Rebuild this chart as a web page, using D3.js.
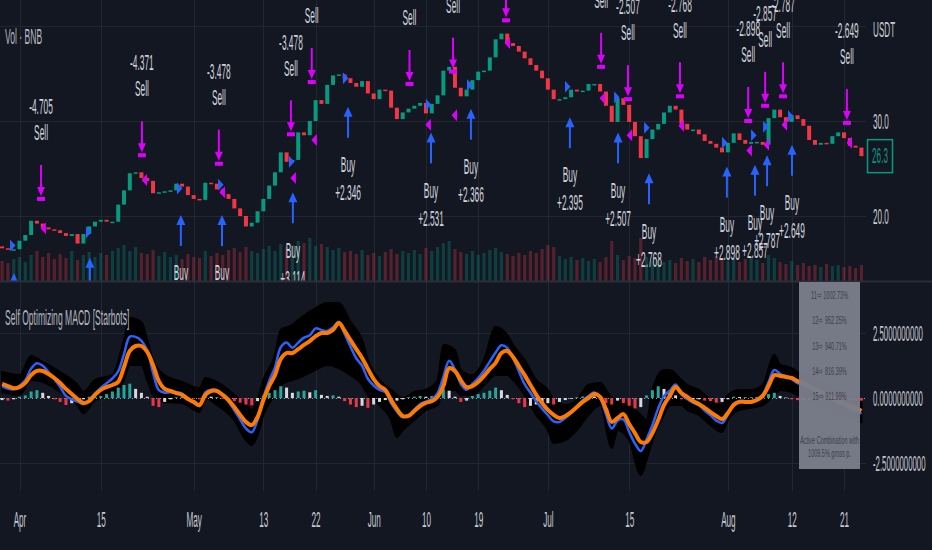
<!DOCTYPE html>
<html>
<head>
<meta charset="utf-8">
<script src="https://cdn.jsdelivr.net/npm/d3@7"></script>
<style>
  body { margin: 0; background: #131722; }
  svg { display: block; font-family: 'Liberation Sans', Arial, sans-serif; }
</style>
</head>
<body>
<svg id="chart"></svg>
<script>
// BNB/USDT daily, Mar 29 – Aug 24 2019, with Self Optimizing MACD [Starbots]
const firstDay = '2019-03-29';
const firstOpen = 16.8;

const closes = [
  16.6, 16.5, 16.5, 17.4, 18.0, 19.5, 19.2, 18.8, 18.6, 18.5,
  18.2, 17.9, 18.1, 17.1, 18.1, 18.9, 19.4, 19.6, 19.4, 19.4,
  21.2, 22.7, 24.5, 24.6, 24.0, 23.7, 22.4, 22.5, 22.6, 22.7,
  23.4, 23.1, 22.2, 21.8, 21.7, 23.5, 23.4, 22.8, 22.3, 21.8,
  20.8, 20.0, 18.9, 19.3, 20.5, 21.8, 23.2, 24.6, 26.7, 25.7,
  25.9, 28.8, 28.5, 30.0, 32.2, 31.8, 33.8, 34.8, 34.9, 34.5,
  34.0, 33.6, 34.2, 32.9, 32.3, 33.3, 33.2, 31.4, 30.2, 30.9,
  31.3, 31.6, 31.9, 30.8, 31.8, 32.7, 35.3, 35.7, 33.5, 32.6,
  33.3, 34.3, 35.2, 35.3, 36.7, 38.6, 39.2, 38.2, 37.9, 37.3,
  36.6, 35.9, 35.3, 34.5, 33.3, 32.3, 32.3, 32.5, 33.3, 33.1,
  33.2, 33.9, 33.9, 33.1, 31.6, 29.9, 32.4, 31.7, 29.9, 28.4,
  26.1, 28.1, 29.1, 29.7, 30.9, 31.6, 31.2, 29.7, 29.1, 29.1,
  28.6, 27.9, 27.6, 27.2, 26.7, 27.7, 28.7, 28.0, 27.6, 27.8,
  27.8, 27.5, 30.3, 31.2, 30.4, 29.9, 30.6, 30.2, 29.5, 28.0,
  27.5, 27.7, 27.6, 28.4, 28.8, 28.2, 27.4, 27.2, 26.3
];

const volumes = [
  20, 18, 22, 24, 19, 26, 30, 24, 28, 22, 27, 23, 30, 21, 26,
  29, 24, 28, 26, 30, 33, 36, 30, 34, 28, 27, 31, 25, 29, 24,
  26, 22, 27, 24, 23, 30, 25, 28, 26, 31, 33, 29, 34, 30, 28,
  32, 35, 30, 37, 34, 36, 40, 38, 43, 35, 37, 34, 31, 33, 29,
  30, 27, 31, 26, 28, 25, 29, 32, 27, 30, 28, 31, 27, 33, 30,
  34, 38, 40, 32, 29, 27, 30, 26, 28, 31, 33, 29, 27, 25, 28,
  26, 30, 28, 32, 36, 34, 25, 22, 24, 21, 23, 20, 22, 19, 24,
  40, 26, 21, 25, 23, 43, 24, 20, 22, 19, 21, 18, 23, 20, 22,
  19, 24, 21, 25, 22, 20, 23, 19, 22, 24, 21, 18, 26, 23, 19,
  17, 20, 16, 18, 15, 16, 14, 17, 15, 16, 14, 15, 13, 16
];

// signal line (orange) and histogram; MACD line = signal + histogram
const signal = [
  0.54, 0.46, 0.38, 0.42, 0.58, 0.88, 1.04, 1.04, 0.92, 0.77,
  0.58, 0.35, 0.15, -0.04, -0.19, -0.12, 0.12, 0.31, 0.42, 0.50,
  0.62, 1.19, 1.81, 2.00, 2.00, 1.77, 1.27, 0.65, 0.35, 0.27,
  0.19, 0.12, -0.04, -0.15, -0.27, 0.12, 0.27, 0.27, 0.12, -0.08,
  -0.35, -0.65, -0.92, -1.04, -0.73, -0.08, 0.46, 0.88, 1.50, 1.73,
  1.73, 1.88, 2.04, 2.19, 2.38, 2.50, 2.50, 2.62, 2.88, 2.58,
  2.23, 1.88, 1.54, 1.12, 0.73, 0.46, 0.31, -0.08, -0.42, -0.69,
  -0.69, -0.50, -0.31, -0.19, -0.12, 0.04, 0.46, 1.15, 1.04, 0.69,
  0.42, 0.46, 0.62, 0.85, 1.12, 1.35, 1.73, 1.81, 1.58, 1.23,
  0.88, 0.50, 0.12, -0.19, -0.46, -0.65, -0.77, -0.69, -0.54, -0.35,
  -0.15, 0.00, 0.15, 0.04, -0.42, -0.92, -0.77, -0.62, -1.00, -1.35,
  -1.69, -1.69, -1.35, -0.85, -0.27, 0.08, 0.42, 0.19, 0.04, -0.12,
  -0.23, -0.38, -0.54, -0.69, -0.81, -0.58, -0.27, -0.15, -0.15, -0.15,
  -0.08, 0.08, 0.46, 0.88, 0.85, 0.81, 0.77, 0.65, 0.58, 0.46,
  0.35, 0.23, 0.12, 0.00, -0.12, -0.19, -0.31, -0.38, -0.50
];

const hist = [
  -0.08, -0.1, -0.05, 0.05, 0.1, 0.25, 0.3, 0.2, 0.08, -0.05,
  -0.15, -0.27, -0.2, -0.1, -0.05, 0.05, 0.05, 0.08, 0.15, 0.25,
  0.4, 0.5, 0.55, 0.35, 0.2, 0.05, -0.3, -0.35, -0.15, -0.05,
  0.03, 0.05, 0.02, -0.03, -0.05, 0.1, 0.05, 0.02, -0.03, -0.06,
  -0.12, -0.18, -0.25, -0.28, -0.12, 0.1, 0.2, 0.3, 0.45, 0.4,
  0.2, 0.25, 0.28, 0.22, 0.3, 0.12, 0.08, 0.1, 0.05, -0.12,
  -0.25, -0.35, -0.3, -0.38, -0.25, -0.15, -0.08, -0.12, -0.1, -0.05,
  0.03, 0.05, 0.08, 0.05, 0.08, 0.15, 0.35, 0.28, 0.05, -0.15,
  -0.1, 0.08, 0.15, 0.2, 0.28, 0.4, 0.3, 0.12, -0.05, -0.2,
  -0.35, -0.3, -0.25, -0.22, -0.2, -0.25, -0.15, -0.08, -0.03, 0.03,
  0.06, 0.08, 0.06, -0.05, -0.2, -0.25, -0.1, -0.2, -0.3, -0.4,
  -0.35, 0.1, 0.3, 0.45, 0.35, 0.2, 0.1, -0.05, -0.08, -0.06,
  -0.05, -0.1, -0.12, -0.18, -0.15, -0.05, 0.05, 0.04, 0.02, 0.03,
  0.04, 0.05, 0.15, 0.2, 0.08, 0.02, -0.05, -0.08, -0.08, -0.08,
  -0.07, -0.06, -0.05, -0.05, -0.06, -0.07, -0.08, -0.09, -0.1
];

// envelope of all tested MACD combinations (black band), day offsets from firstDay
const bandDay = [0, 3, 5, 7, 10, 13, 14, 16, 19, 21, 22, 24, 25, 26, 28, 31, 34, 35, 37, 40,
  42, 43, 44, 45, 47, 48, 50, 51, 54, 56, 58, 60, 62, 63, 65, 67, 68, 69, 71, 73,
  75, 76, 78, 79, 81, 83, 85, 87, 88, 90, 92, 94, 95, 97, 99, 101, 103, 105, 106, 108,
  110, 111, 112, 114, 115, 117, 118, 120, 122, 124, 125, 127, 129, 131, 133, 134, 136, 137, 141, 144, 148];
const bandHi = [1.0, 0.88, 1.62, 1.38, 1.0, 0.5, 0.23, 0.69, 0.88, 2.23, 3.08, 2.92, 2.23, 1.46, 0.88, 0.62, 0.38, 0.77, 0.62, 0.12,
  -0.27, -0.46, -0.08, 0.69, 1.65, 2.62, 2.81, 3.0, 3.46, 3.65, 3.65, 2.92, 2.23, 1.46, 0.69, 0.31, 0.12, 0.0, 0.23, 0.31,
  0.69, 2.04, 1.85, 1.08, 0.88, 1.46, 2.73, 2.42, 2.04, 1.46, 0.69, 0.31, -0.08, -0.27, -0.08, 0.5, 0.58, 0.0, -0.08, -0.27,
  -0.65, -0.85, 0.31, 1.08, 1.08, 0.69, 0.5, 0.31, -0.08, -0.27, 0.12, 0.31, 0.31, 0.5, 1.65, 1.27, 1.15, 1.0, 0.62, 0.23, -0.08];
const bandLo = [0.23, 0.12, 0.69, 0.62, 0.23, -0.27, -0.58, -0.08, 0.12, 0.69, 1.27, 1.27, 0.69, 0.12, -0.15, -0.19, -0.54, 0.0, -0.27, -0.85,
  -1.62, -1.81, -1.42, -0.65, 0.12, 0.5, 0.69, 0.77, 1.08, 1.27, 1.15, 0.88, 0.5, 0.12, -0.27, -0.85, -1.5, -1.23, -0.85, -0.46,
  -0.27, 0.3, 0.31, 0.12, 0.12, 0.5, 0.88, 0.88, 0.69, 0.12, -0.65, -1.23, -1.73, -1.62, -1.23, -0.65, -0.27, -1.92, -1.23, -1.62,
  -2.96, -2.38, -1.62, -0.65, -0.27, -0.27, -0.46, -0.65, -1.04, -1.31, -0.85, -0.46, -0.38, -0.27, 0.12, 0.31, 0.23, 0.12, -0.27, -0.62, -0.92];

// strategy signals
const sellAt = ['2019-04-04 17', '2019-04-22 02', '2019-05-05 08', '2019-05-17 18', '2019-05-21 08',
  '2019-06-07 04', '2019-06-14 16', '2019-06-23 19', '2019-07-10 04', '2019-07-14 19',
  '2019-07-23 18', '2019-08-04 12', '2019-08-07 10', '2019-08-10 12', '2019-08-21 12'];
const sellLevel = [21.8, 26.4, 25.5, 28.6, 34.1, 33.9, 35.2, 40.6, 35.7, 32.3, 32.6, 30.0, 31.6, 32.6, 29.8];
const sellText = ['-4.705', '-4.371', '-3.478', '-3.478', '-3.114', '-2.346', '-2.531', '-2.366',
  '-2.395', '-2.507', '-2.768', '-2.898', '-2.857', '-2.787', '-2.649'];

const buyAt = ['2019-03-31 01', '2019-04-13 03', '2019-04-28 19', '2019-05-05 21', '2019-05-18 02',
  '2019-05-27 14', '2019-06-10 21', '2019-06-17 18', '2019-07-04 19', '2019-07-13 02',
  '2019-07-18 10', '2019-07-31 20', '2019-08-05 16', '2019-08-07 18', '2019-08-12 01'];
const buyLevel = [14.0, 15.6, 20.1, 20.1, 22.5, 31.5, 28.8, 31.3, 30.4, 28.8, 24.5, 25.2, 25.4, 26.4, 27.5];
const buyText = ['+4.705', '+4.371', '+3.478', '+3.478', '+3.114', '+2.346', '+2.531', '+2.366',
  '+2.395', '+2.507', '+2.768', '+2.898', '+2.857', '+2.787', '+2.649'];

const longAt = ['2019-03-30 17', '2019-04-12 19', '2019-04-28 11', '2019-05-05 13', '2019-05-17 18',
  '2019-05-27 01', '2019-06-10 08', '2019-06-17 10', '2019-07-04 07', '2019-07-12 18',
  '2019-07-17 22', '2019-07-31 08', '2019-08-05 08', '2019-08-07 10', '2019-08-11 17'];
const longLevel = [16.9, 18.3, 22.9, 23.3, 25.7, 34.5, 31.7, 33.8, 33.6, 32.5, 29.3, 27.7, 28.5, 29.4, 30.5];
const shortAt = ['2019-04-05 05', '2019-04-22 15', '2019-05-06 01', '2019-05-18 06', '2019-05-21 21',
  '2019-06-10 12', '2019-06-15 00', '2019-06-24 03', '2019-07-10 12', '2019-07-15 04',
  '2019-07-24 02', '2019-08-04 19', '2019-08-07 18', '2019-08-10 20', '2019-08-22 01'];
const shortLevel = [18.7, 23.8, 22.5, 24.0, 28.0, 29.6, 30.6, 38.2, 32.4, 28.5, 29.5, 26.9, 27.5, 29.6, 27.7];

const timeTicks = ['2019-04-01', '2019-04-15', '2019-05-01', '2019-05-13', '2019-05-22', '2019-06-01',
  '2019-06-10', '2019-06-19', '2019-07-01', '2019-07-15', '2019-08-01', '2019-08-12', '2019-08-21'];
const priceGrid = [20, 30, 40];
const priceLabels = [20, 30];
const macdTicks = [-2.5, 0, 2.5];
const tableRows = ['11\u21E8 1002.73%', '12\u21E8 952.25%', '13\u21E8 940.71%', '14\u21E8 816.39%', '15\u21E8 911.99%'];
const tableFoot = ['Active Combination with', '1009.5% gross p.'];

// ---- layout ----
const W = 932, H = 550;
const plotRight = 866, split = 281, macdBottom = 491;
const SX = 0.38;
const UP = '#089981', DOWN = '#f23645', SELL = '#dd00ff', BUY = '#2962ff';

const parseDay = d3.timeParse('%Y-%m-%d');
const parseHour = d3.timeParse('%Y-%m-%d %H');
const start = parseDay(firstDay);
const days = closes.map((c, i) => d3.timeDay.offset(start, i));

const x = d3.scaleTime()
  .domain([parseDay('2019-04-01'), parseDay('2019-08-21')])
  .range([19.5, 844]);
const yPrice = d3.scaleLinear().domain([20, 30]).range([216, 121]);
const yVol = d3.scaleLinear().domain([0, 100]).range([split, split - 100]);
const yMacd = d3.scaleLinear().domain([-2.5, 2.5]).range([463, 333]);

const svg = d3.select('#chart').attr('width', W).attr('height', H);
svg.append('rect').attr('width', W).attr('height', H).attr('fill', '#131722');

const defs = svg.append('defs');
defs.append('clipPath').attr('id', 'clipPrice')
  .append('rect').attr('x', 0).attr('y', 0).attr('width', plotRight).attr('height', split);
defs.append('clipPath').attr('id', 'clipMacd')
  .append('rect').attr('x', 0).attr('y', split + 1).attr('width', plotRight).attr('height', macdBottom - split - 1);

function label(parent, px, py, str, opt = {}) {
  return parent.append('text')
    .attr('transform', `translate(${px},${py}) scale(${opt.sx ?? SX},1)`)
    .attr('text-anchor', opt.anchor ?? 'middle')
    .attr('dominant-baseline', 'central')
    .attr('font-size', opt.size ?? 22)
    .attr('fill', opt.fill ?? '#d1d4dc')
    .text(str);
}

// Grid
const grid = svg.append('g').attr('stroke', '#222631').attr('stroke-width', 1);
timeTicks.forEach(t => {
  const gx = Math.round(x(parseDay(t))) + 0.5;
  grid.append('line').attr('x1', gx).attr('x2', gx).attr('y1', 0).attr('y2', macdBottom);
});
priceGrid.forEach(v => {
  const gy = Math.round(yPrice(v)) + 0.5;
  grid.append('line').attr('x1', 0).attr('x2', plotRight).attr('y1', gy).attr('y2', gy);
});
macdTicks.forEach(v => {
  const gy = Math.round(yMacd(v)) + 0.5;
  grid.append('line').attr('x1', 0).attr('x2', plotRight).attr('y1', gy).attr('y2', gy);
});

// ---- price pane ----
const price = svg.append('g').attr('clip-path', 'url(#clipPrice)');
const candles = closes.map((c, i) => ({
  d: days[i], open: i ? closes[i - 1] : firstOpen, close: c, vol: volumes[i]
}));

price.selectAll('rect.vol').data(candles).join('rect')
  .attr('class', 'vol')
  .attr('x', d => x(d.d) - 1.6)
  .attr('width', 3.2)
  .attr('y', d => yVol(d.vol))
  .attr('height', d => yVol(0) - yVol(d.vol))
  .attr('fill', d => d.close >= d.open ? UP : DOWN)
  .attr('opacity', 0.3);

price.selectAll('rect.candle').data(candles).join('rect')
  .attr('class', 'candle')
  .attr('x', d => x(d.d) - 2)
  .attr('width', 4)
  .attr('y', d => yPrice(Math.max(d.open, d.close)))
  .attr('height', d => Math.max(1.5, Math.abs(yPrice(d.open) - yPrice(d.close))))
  .attr('fill', d => d.close >= d.open ? UP : DOWN);

// entry triangles
longAt.forEach((t, i) => {
  const tx = x(parseHour(t)), ty = yPrice(longLevel[i]);
  price.append('path').attr('d', `M${tx - 2},${ty - 6}L${tx + 3.5},${ty}L${tx - 2},${ty + 6}Z`).attr('fill', BUY);
});
shortAt.forEach((t, i) => {
  const tx = x(parseHour(t)), ty = yPrice(shortLevel[i]);
  price.append('path').attr('d', `M${tx + 2},${ty - 6}L${tx - 3.5},${ty}L${tx + 2},${ty + 6}Z`).attr('fill', SELL);
});

// sell signals
sellAt.forEach((t, i) => {
  const sx = x(parseHour(t)), by = yPrice(sellLevel[i]);
  price.append('line').attr('x1', sx).attr('x2', sx).attr('y1', by - 34).attr('y2', by - 10)
    .attr('stroke', SELL).attr('stroke-width', 2);
  price.append('path').attr('d', `M${sx - 4},${by - 12}L${sx + 4},${by - 12}L${sx},${by - 3}Z`).attr('fill', SELL);
  price.append('rect').attr('x', sx - 4).attr('y', by - 2).attr('width', 8).attr('height', 4).attr('fill', SELL);
  label(price, sx, by - 66, 'Sell');
  label(price, sx, by - 92, sellText[i]);
});

// buy signals
buyAt.forEach((t, i) => {
  const bx = x(parseHour(t)), tip = yPrice(buyLevel[i]);
  price.append('path').attr('d', `M${bx},${tip}L${bx + 4.5},${tip + 10}L${bx - 4.5},${tip + 10}Z`).attr('fill', BUY);
  price.append('line').attr('x1', bx).attr('x2', bx).attr('y1', tip + 8).attr('y2', tip + 31)
    .attr('stroke', BUY).attr('stroke-width', 2);
  label(price, bx, tip + 58, 'Buy');
  label(price, bx, tip + 86, buyText[i]);
});

// pane separator
svg.append('line').attr('x1', 0).attr('x2', W).attr('y1', split + 0.5).attr('y2', split + 0.5)
  .attr('stroke', '#2a2e39').attr('stroke-width', 2);

// ---- MACD pane ----
const macd = svg.append('g').attr('clip-path', 'url(#clipMacd)');
const band = bandDay.map((dd, k) => ({ d: d3.timeDay.offset(start, dd), hi: bandHi[k], lo: bandLo[k] }));
macd.append('path').datum(band)
  .attr('fill', '#000')
  .attr('stroke', '#000').attr('stroke-width', 2)
  .attr('d', d3.area().x(d => x(d.d)).y0(d => yMacd(d.lo)).y1(d => yMacd(d.hi)).curve(d3.curveMonotoneX));

const rows = signal.map((s, i) => ({ d: days[i], sig: s, h: hist[i], m: s + hist[i], prev: i ? hist[i - 1] : hist[0] }));

macd.append('line').attr('x1', 0).attr('x2', plotRight)
  .attr('y1', yMacd(0) + 0.5).attr('y2', yMacd(0) + 0.5)
  .attr('stroke', '#9598a1').attr('stroke-dasharray', '1 3');

macd.selectAll('rect.hist').data(rows).join('rect')
  .attr('class', 'hist')
  .attr('x', d => x(d.d) - 1.5)
  .attr('width', 3)
  .attr('y', d => yMacd(Math.max(0, d.h)))
  .attr('height', d => Math.abs(yMacd(d.h) - yMacd(0)))
  .attr('fill', d => d.h >= 0 ? (d.h >= d.prev ? '#26a69a' : '#d6d8de') : (d.h < d.prev ? '#e8374a' : '#d6d8de'));

macd.append('path').datum(rows)
  .attr('fill', 'none').attr('stroke', BUY).attr('stroke-width', 2.5)
  .attr('d', d3.line().x(d => x(d.d)).y(d => yMacd(d.m)).curve(d3.curveCatmullRom));
macd.append('path').datum(rows)
  .attr('fill', 'none').attr('stroke', '#ff7a00').attr('stroke-width', 4)
  .attr('d', d3.line().x(d => x(d.d)).y(d => yMacd(d.sig)).curve(d3.curveCatmullRom));

// results table
const table = svg.append('g');
table.append('rect').attr('x', 799).attr('y', 282).attr('width', 61).attr('height', 187)
  .attr('fill', '#7b7e8a').attr('opacity', 0.96);
tableRows.forEach((r, i) => {
  label(table, 829.5, 295.5 + i * 25.2, r, { size: 11, sx: 0.5, fill: '#3e414a' });
});
tableFoot.forEach((r, i) => {
  label(table, 829.5, 440 + i * 13.5, r, { size: 11, sx: 0.5, fill: '#3e414a' });
});

// legends
label(svg, 5, 37, 'Vol \u00B7 BNB', { anchor: 'start', fill: '#b2b5be', sx: 0.39 });
label(svg, 5, 318, 'Self Optimizing MACD [Starbots]', { anchor: 'start', fill: '#b2b5be', sx: 0.39 });

// ---- axes ----
const styleText = (g, dx, dy, sx) => {
  g.select('.domain').remove();
  g.selectAll('.tick line').remove();
  g.selectAll('.tick text')
    .attr('x', null).attr('y', null).attr('dy', null)
    .attr('dominant-baseline', 'central')
    .attr('transform', `translate(${dx},${dy}) scale(${sx},1)`)
    .attr('font-size', 22)
    .attr('font-family', "'Liberation Sans', Arial, sans-serif")
    .attr('fill', '#c7cad1');
};

const tickFmt = d => d.getDate() === 1 ? d3.timeFormat('%b')(d) : String(d.getDate());
svg.append('g')
  .attr('transform', `translate(0,${macdBottom})`)
  .call(d3.axisBottom(x).tickValues(timeTicks.map(parseDay)).tickFormat(tickFmt).tickSize(0))
  .call(g => styleText(g, 0, 29, 0.37));

svg.append('g')
  .call(d3.axisRight(yPrice).tickValues(priceLabels).tickFormat(d3.format('.1f')).tickSize(0))
  .call(g => styleText(g, 873, 0, 0.37));

svg.append('g')
  .call(d3.axisRight(yMacd).tickValues(macdTicks).tickFormat(v => v.toFixed(10)).tickSize(0))
  .call(g => styleText(g, 873, 0, 0.355));

label(svg, 873, 30, 'USDT', { anchor: 'start', fill: '#c7cad1', sx: 0.37 });

// last price tag
const last = closes[closes.length - 1];
svg.append('rect').attr('x', 867.5).attr('y', yPrice(last) - 16.5).attr('width', 25).attr('height', 33)
  .attr('fill', '#131722').attr('stroke', UP).attr('stroke-width', 1.5);
label(svg, 880, yPrice(last), last.toFixed(1), { fill: UP, sx: 0.37 });
</script>
</body>
</html>
